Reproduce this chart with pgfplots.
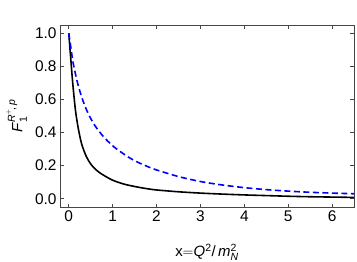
\documentclass[border=0pt]{standalone}
\usepackage{fontspec}
\setmainfont{Liberation Sans}
\usepackage{amsmath}
\usepackage{pgfplots}
\pgfplotsset{compat=1.18}
\usetikzlibrary{calc}
\definecolor{framegray}{RGB}{70,70,70}

\begin{document}
\begin{tikzpicture}
\begin{axis}[
    scale only axis,
    width=294bp, height=182bp,
    xmin=-0.2, xmax=6.5,
    ymin=-0.05, ymax=1.05,
    xtick={0,1,...,6},
    ytick={0,0.2,0.4,0.6,0.8,1.0},
    yticklabel style={/pgf/number format/fixed, /pgf/number format/fixed zerofill, /pgf/number format/precision=1},
    /pgf/number format/assume math mode=true,
    tick align=inside,
    major tick length=3.5bp,
    axis line style={framegray, line width=0.8pt},
    tick style={framegray, line width=0.6pt},
    ticklabel style={font=\fontsize{15.5}{17}\selectfont},
    label style={font=\fontsize{15}{17}\selectfont},
    xlabel={x$=$\textit{Q}$^{\text{2}}$/\,\textit{m}$_{\textit{N}}^{\text{2}}$},
    xlabel style={at={(axis description cs:0.5,0)}, anchor=south, inner sep=0pt, yshift=-54bp},
    ylabel={\textit{F}$_{\text{1}}^{\textit{R}^{+}\!\text{,}\,\textit{p}}$},
    ylabel style={at={(axis description cs:0,0.5)}, anchor=north, inner sep=0pt, yshift=54bp},
]
% black solid curve
\addplot[black, line width=1.6pt, smooth] coordinates {
(0,1.0) (0.02,0.93) (0.05,0.83) (0.08,0.73) (0.1,0.67) (0.15,0.54) (0.2,0.45)
(0.25,0.38) (0.3,0.325) (0.4,0.255) (0.5,0.21) (0.6,0.18) (0.7,0.158)
(0.8,0.141) (1.0,0.112) (1.25,0.089) (1.5,0.074) (1.75,0.062) (2.0,0.053)
(2.5,0.042) (3.0,0.034) (3.5,0.028) (4.0,0.023) (4.5,0.019) (5.0,0.015)
(5.5,0.012) (6.0,0.010) (6.5,0.008)
};
% blue dashed curve
\addplot[blue, line width=1.6pt, dash pattern=on 6bp off 3.5bp, smooth] coordinates {
(0,1.0) (0.05,0.91) (0.1,0.82) (0.2,0.7) (0.3,0.61) (0.4,0.54) (0.5,0.485)
(0.6,0.44) (0.7,0.405) (0.8,0.372) (1.0,0.32) (1.2,0.28) (1.4,0.245)
(1.6,0.217) (1.8,0.194) (2.0,0.174) (2.5,0.134) (3.0,0.104) (3.5,0.083)
(4.0,0.067) (4.5,0.055) (5.0,0.046) (5.5,0.039) (6.0,0.034) (6.5,0.030)
};
\end{axis}
\path ($(current axis.south west)+(-60bp,-55bp)$) rectangle ($(current axis.north east)+(3bp,25bp)$);
\end{tikzpicture}
\end{document}
